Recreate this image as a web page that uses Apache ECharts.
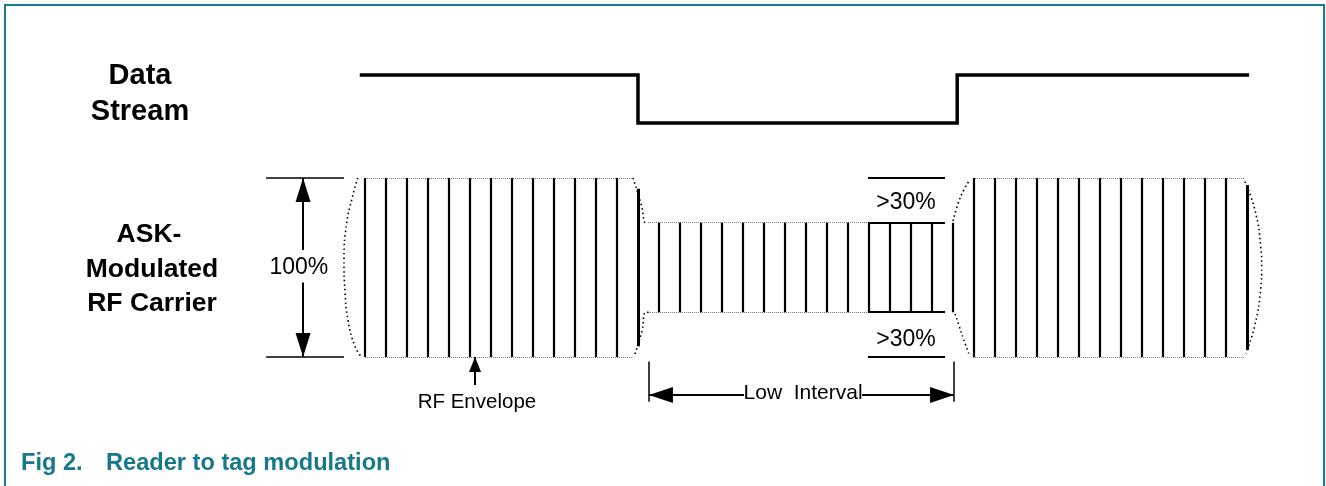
<!DOCTYPE html>
<html>
<head>
<meta charset="utf-8">
<script src="https://cdn.jsdelivr.net/npm/echarts@6/dist/echarts.min.js"></script>
<style>
html,body{margin:0;padding:0;background:#fff;}
#c{width:1326px;height:486px;}
</style>
</head>
<body>
<div id="c"></div>
<script>
// ================= DATA =================
// Time axis in RF carrier cycles, amplitude axis in % of full carrier swing (centre = 0)
const carrierCycles = [0,1,2,3,4,5,6,7,8,9,10,11,12,13,
                       14,15,16,17,18,19,20,21,22,23,24,25,26,27,28,
                       29,30,31,32,33,34,35,36,37,38,39,40,41,42];
const carrierAmplitude = [100,100,100,100,100,100,100,100,100,100,100,100,100,88,
                          50,50,50,50,50,50,50,50,50,50,50,50,50,50,50,
                          100,100,100,100,100,100,100,100,100,100,100,100,100,92];
const envelopeEdgeCycles = [13, 42];

// Data stream (logic level vs. time in cycles)
const bitEdges  = [-0.25, 13, 28.2, 42.1];
const bitLevels = [1, 0, 1];

// Dotted envelope baselines: [from cycle, to cycle, amplitude %]
const envelopeFrom = [0, 13.48, 28.95];
const envelopeTo   = [12.76, 23.95, 41.9];
const envelopeAmp  = [100, 50, 100];

// Threshold box inside low interval
const boxFrom = 23.95, boxTo = 27.62;
const boxLevels = [50, 25, -25, -50];

// Dotted envelope curves (cycle, amplitude %)
const leftEdgeCurve    = [[-0.35,50],[-0.63,38],[-0.87,25],[-1.0,5],[-0.95,-14],[-0.8,-30],[-0.48,-44],[-0.16,-50]];
const fallTopCurve     = [[12.76,50],[13.18,34],[13.36,25],[13.5,25]];
const fallBottomCurve  = [[13.5,-25],[13.36,-25],[13.18,-36],[12.8,-50]];
const riseTopCurve     = [[28.0,26],[28.25,36],[28.5,43],[28.8,49]];
const riseBottomCurve  = [[28.1,-26],[28.3,-33],[28.5,-40],[28.75,-48]];
const rightEdgeCurve   = [[41.9,48],[42.38,32],[42.65,12],[42.7,0],[42.65,-12],[42.38,-32],[41.95,-48]];

// 100% dimension
const fullRefCycle = -2.95, fullRefFrom = -4.71, fullRefTo = -1.0;
const fullGapTop = 9.8, fullGapBottom = -8.4;
// RF envelope pointer
const rfPointerCycle = 5.24, rfPointerTip = -50, rfPointerTail = -65.6;
// Low interval dimension
const lowStart = 13.52, lowEnd = 28.05, lowLevel = -71.2, lowTickTop = -52.5, lowTickBottom = -75;
const lowGapFrom = 18.05, lowGapTo = 23.67;

// Text labels (cycle, amplitude %)
const labelTexts  = ['100%', '>30%', '>30%', 'RF Envelope', 'Low  Interval'];
const labelCycles = [-3.15, 25.76, 25.76, 5.33, 20.86];
const labelAmps   = [0, 36.2, -40.5, -75.5, -70.5];

// ================= CHART =================
const FONT = '"Liberation Sans", Arial, Helvetica, sans-serif';
const labelSizes = [23, 23, 23, 20.5, 21];

const chart = echarts.init(document.getElementById('c'), null, {renderer: 'canvas'});

function seg(a, b, style) {
  return {coords: [a, b], lineStyle: Object.assign({color: '#000', width: 2, opacity: 1}, style || {})};
}

const carrierData = carrierCycles.map((t, i) => seg([t, -carrierAmplitude[i] / 2], [t, carrierAmplitude[i] / 2],
  {width: envelopeEdgeCycles.indexOf(t) >= 0 ? 3 : 2.2}));

const envData = [];
envelopeFrom.forEach((f, i) => {
  const h = envelopeAmp[i] / 2;
  envData.push(seg([f, h], [envelopeTo[i], h], {color: '#777', width: 1, type: [1, 1]}));
  envData.push(seg([f, -h], [envelopeTo[i], -h], {color: '#777', width: 1, type: [1, 1]}));
});

const boxData = boxLevels.map(l => seg([boxFrom, l], [boxTo, l], {width: 2}));

const annData = [
  seg([fullRefFrom, 50], [fullRefTo, 50], {width: 1.5}),
  seg([fullRefFrom, -50], [fullRefTo, -50], {width: 1.5}),
  seg([fullRefCycle, fullGapTop], [fullRefCycle, 50], {width: 2}),
  seg([fullRefCycle, fullGapBottom], [fullRefCycle, -50], {width: 2}),
  seg([rfPointerCycle, rfPointerTail], [rfPointerCycle, rfPointerTip], {width: 2}),
  seg([lowStart, lowTickTop], [lowStart, lowTickBottom], {width: 1.5}),
  seg([lowEnd, lowTickTop], [lowEnd, lowTickBottom], {width: 1.5}),
  seg([lowStart, lowLevel], [lowGapFrom, lowLevel], {width: 2}),
  seg([lowGapTo, lowLevel], [lowEnd, lowLevel], {width: 2})
];

function arrowSeries(points, len, wid) {
  return {
    type: 'custom', coordinateSystem: 'cartesian2d', silent: true, z: 5,
    data: points,
    renderItem: function (params, api) {
      const p = api.coord([api.value(0), api.value(1)]);
      const a = api.value(2) * Math.PI / 180;
      const dx = Math.cos(a), dy = -Math.sin(a);
      const bx = p[0] - dx * len, by = p[1] - dy * len;
      const nx = -dy * wid / 2, ny = dx * wid / 2;
      return {type: 'polygon', shape: {points: [[p[0], p[1]], [bx + nx, by + ny], [bx - nx, by - ny]]},
              style: {fill: '#000'}};
    }
  };
}

function curve(data) {
  return {type: 'line', data: data, smooth: 0.5, showSymbol: false, symbol: 'none', silent: true,
          lineStyle: {color: '#000', width: 1.6, type: [1.5, 3]}};
}

const streamData = [];
bitLevels.forEach((l, i) => { streamData.push([bitEdges[i], l]); streamData.push([bitEdges[i + 1], l]); });

chart.setOption({
  animation: false,
  grid: {left: 0, right: 0, top: 0, bottom: 0, containLabel: false},
  xAxis: {type: 'value', min: -17.381, max: 45.762, show: false},
  yAxis: [
    {type: 'value', min: -122.07, max: 149.44, show: false},
    {type: 'value', min: -7.5625, max: 2.5625, show: false}
  ],
  series: [
    {type: 'line', yAxisIndex: 1, data: streamData, showSymbol: false, symbol: 'none', silent: true,
     lineStyle: {color: '#000', width: 3.5, cap: 'butt', join: 'miter'}},
    {type: 'lines', coordinateSystem: 'cartesian2d', data: carrierData, silent: true, z: 3},
    {type: 'lines', coordinateSystem: 'cartesian2d', data: envData, silent: true, z: 2},
    {type: 'lines', coordinateSystem: 'cartesian2d', data: boxData, silent: true, z: 3},
    {type: 'lines', coordinateSystem: 'cartesian2d', data: annData, silent: true, z: 3},
    curve(leftEdgeCurve), curve(fallTopCurve), curve(fallBottomCurve),
    curve(riseTopCurve), curve(riseBottomCurve), curve(rightEdgeCurve),
    arrowSeries([[fullRefCycle, 50, 90], [fullRefCycle, -50, -90]], 24, 15),
    arrowSeries([[rfPointerCycle, rfPointerTip, 90]], 15, 12),
    arrowSeries([[lowStart, lowLevel, 180], [lowEnd, lowLevel, 0]], 24, 16)
  ]
});

function txt(x, y, text, font, fill, align) {
  return {type: 'text', x: x, y: y, silent: true, z: 10,
          style: {text: text, font: font, fill: fill, align: align, verticalAlign: 'middle',
                  textAlign: align, textVerticalAlign: 'middle'}};
}

const graphics = [
  {type: 'polyline', silent: true, shape: {points: [[5, 495], [5, 5], [1324, 5], [1324, 495]]},
   style: {stroke: '#137f8d', lineWidth: 2, fill: null}},
  txt(140, 76, 'Data', 'bold 29px ' + FONT, '#000', 'center'),
  txt(140, 112, 'Stream', 'bold 29px ' + FONT, '#000', 'center'),
  txt(149, 235, 'ASK-', 'bold 26.5px ' + FONT, '#000', 'center'),
  txt(152, 270, 'Modulated', 'bold 26.5px ' + FONT, '#000', 'center'),
  txt(152, 304, 'RF Carrier', 'bold 26.5px ' + FONT, '#000', 'center'),
  txt(21, 463, 'Fig 2.', 'bold 23.6px ' + FONT, '#16788a', 'left'),
  txt(106, 463, 'Reader to tag modulation', 'bold 23.6px ' + FONT, '#16788a', 'left')
];
labelTexts.forEach((s, i) => {
  const p = chart.convertToPixel({xAxisIndex: 0, yAxisIndex: 0}, [labelCycles[i], labelAmps[i]]);
  graphics.push(txt(p[0], p[1], s, labelSizes[i] + 'px ' + FONT, '#000', 'center'));
});
chart.setOption({graphic: graphics});
</script>
</body>
</html>
